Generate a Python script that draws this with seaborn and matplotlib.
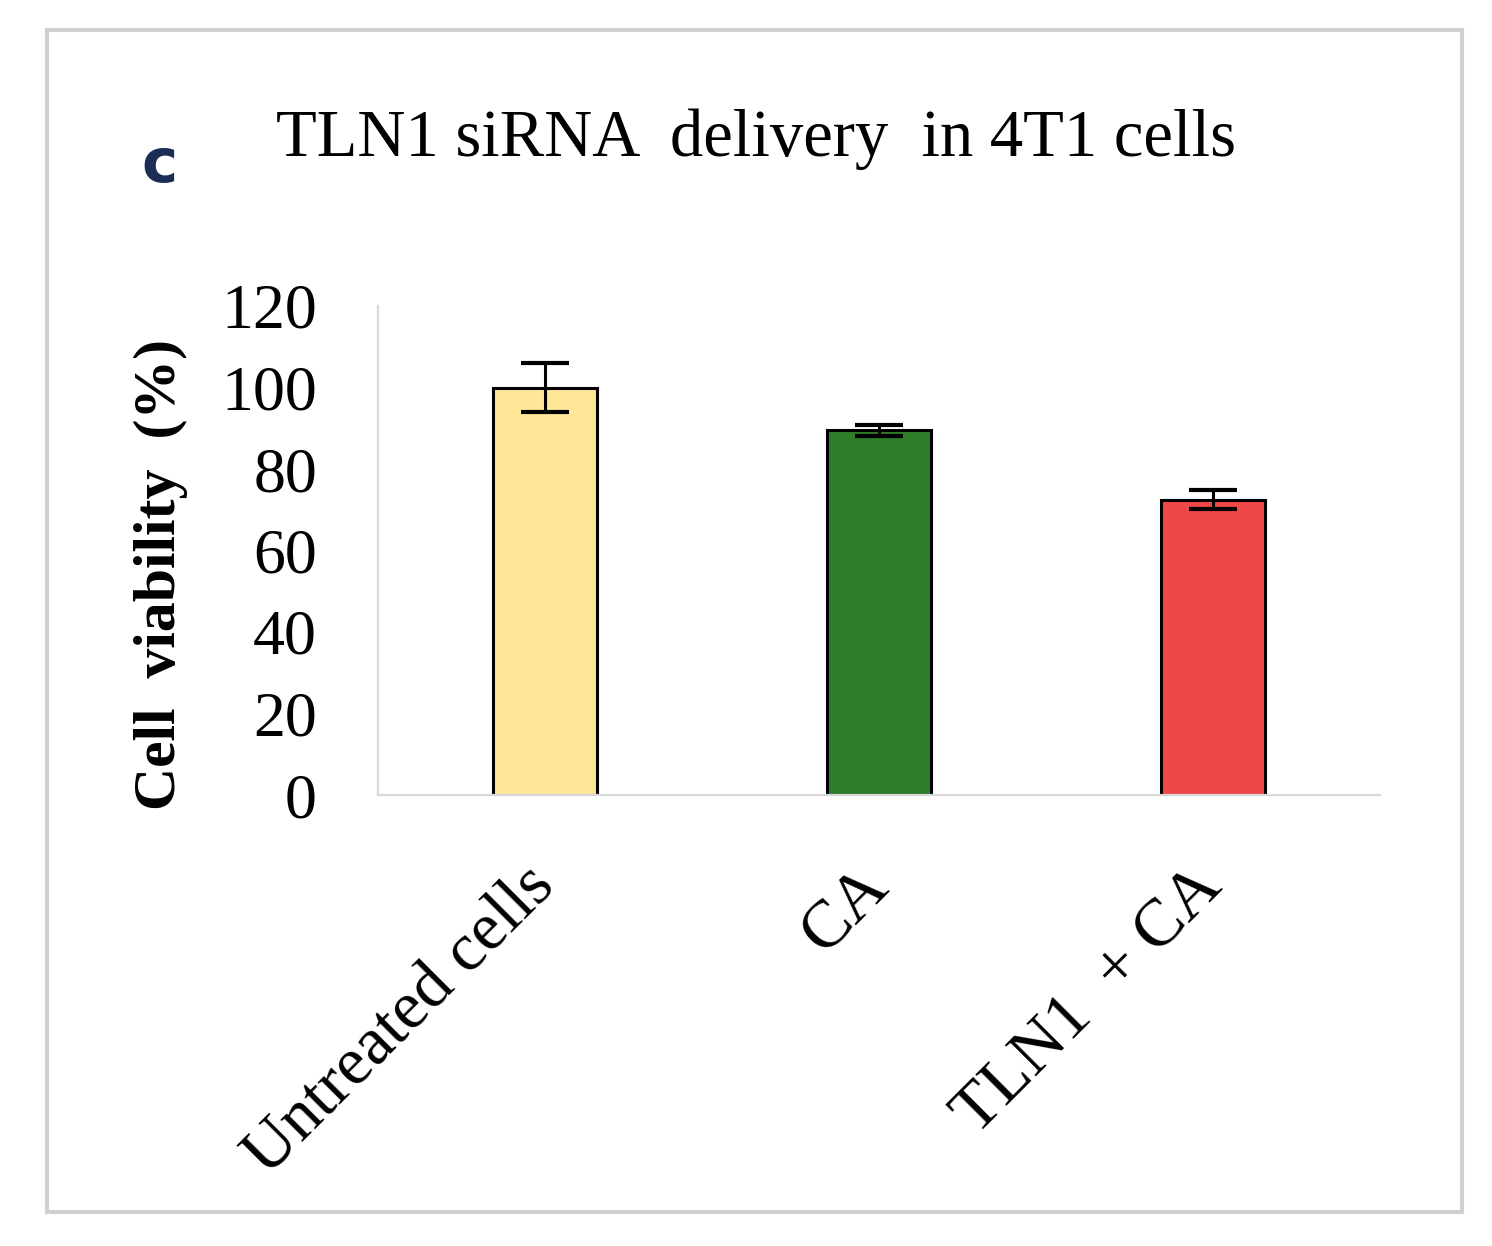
import matplotlib
matplotlib.use("Agg")
import matplotlib.pyplot as plt
import seaborn as sns
import pandas as pd
from matplotlib.patches import Rectangle

# values
groups = ["Untreated cells", "CA", "TLN1  + CA"]
viability = [100.0, 89.5, 72.5]
sd = [6.0, 1.4, 2.4]
bar_colors = ["#FFE699", "#2E7D2A", "#F04848"]
yticks = [0, 20, 40, 60, 80, 100, 120]

df = pd.DataFrame({"group": groups, "viability": viability})

sns.set_style("white")
plt.rcParams["font.family"] = ["Liberation Serif", "DejaVu Serif"]
plt.rcParams["text.color"] = "black"
plt.rcParams["xtick.color"] = "black"
plt.rcParams["ytick.color"] = "black"
plt.rcParams["axes.labelcolor"] = "black"

fig = plt.figure(figsize=(14.92, 12.46), dpi=100)
ax = fig.add_axes([378 / 1492, 1 - 795 / 1246, 1002 / 1492, (795 - 306) / 1246])

sns.barplot(
    data=df,
    x="group",
    y="viability",
    hue="group",
    palette=bar_colors,
    saturation=1,
    errorbar=None,
    width=0.31,
    edgecolor="black",
    linewidth=2.2,
    legend=False,
    ax=ax,
)
ax.errorbar(
    range(len(groups)),
    viability,
    yerr=sd,
    fmt="none",
    ecolor="black",
    elinewidth=2.2,
    capsize=17,
    capthick=3,
)

ax.set_xlim(-0.5, len(groups) - 0.5)
ax.set_ylim(0, 120)
ax.set_yticks(yticks)
ax.set_yticklabels([str(t) for t in yticks], fontsize=46)
ax.tick_params(axis="y", length=0, pad=44)
ax.tick_params(axis="x", length=0, pad=59)
ax.set_xticks(range(len(groups)))
ax.set_xticklabels(groups, fontsize=49, rotation=45, ha="right",
                   va="center", rotation_mode="anchor")
ax.set_xlabel("")
ax.set_ylabel("Cell  viability  (%)", fontsize=43, fontweight="bold")
ax.yaxis.set_label_coords(-0.19, 0.45)

sns.despine(ax=ax)
for side in ["left", "bottom"]:
    ax.spines[side].set_color("#d9d9d9")
    ax.spines[side].set_linewidth(1.6)

fig.text(0.507, 1 - 156 / 1246, "TLN1 siRNA  delivery  in 4T1 cells",
         fontsize=48, ha="center", va="baseline")
fig.text(160 / 1492, 1 - 182 / 1246, "c", fontsize=44, fontweight="bold",
         color="#1c2d55", ha="center", va="baseline",
         family=["DejaVu Sans"])

fig.patches.append(Rectangle((47 / 1492, 1 - 1212 / 1246), 1415 / 1492, 1182 / 1246,
                             transform=fig.transFigure, fill=False,
                             edgecolor="#d0d0d0", linewidth=3))

fig.savefig("out.png", dpi=100, facecolor="white")
